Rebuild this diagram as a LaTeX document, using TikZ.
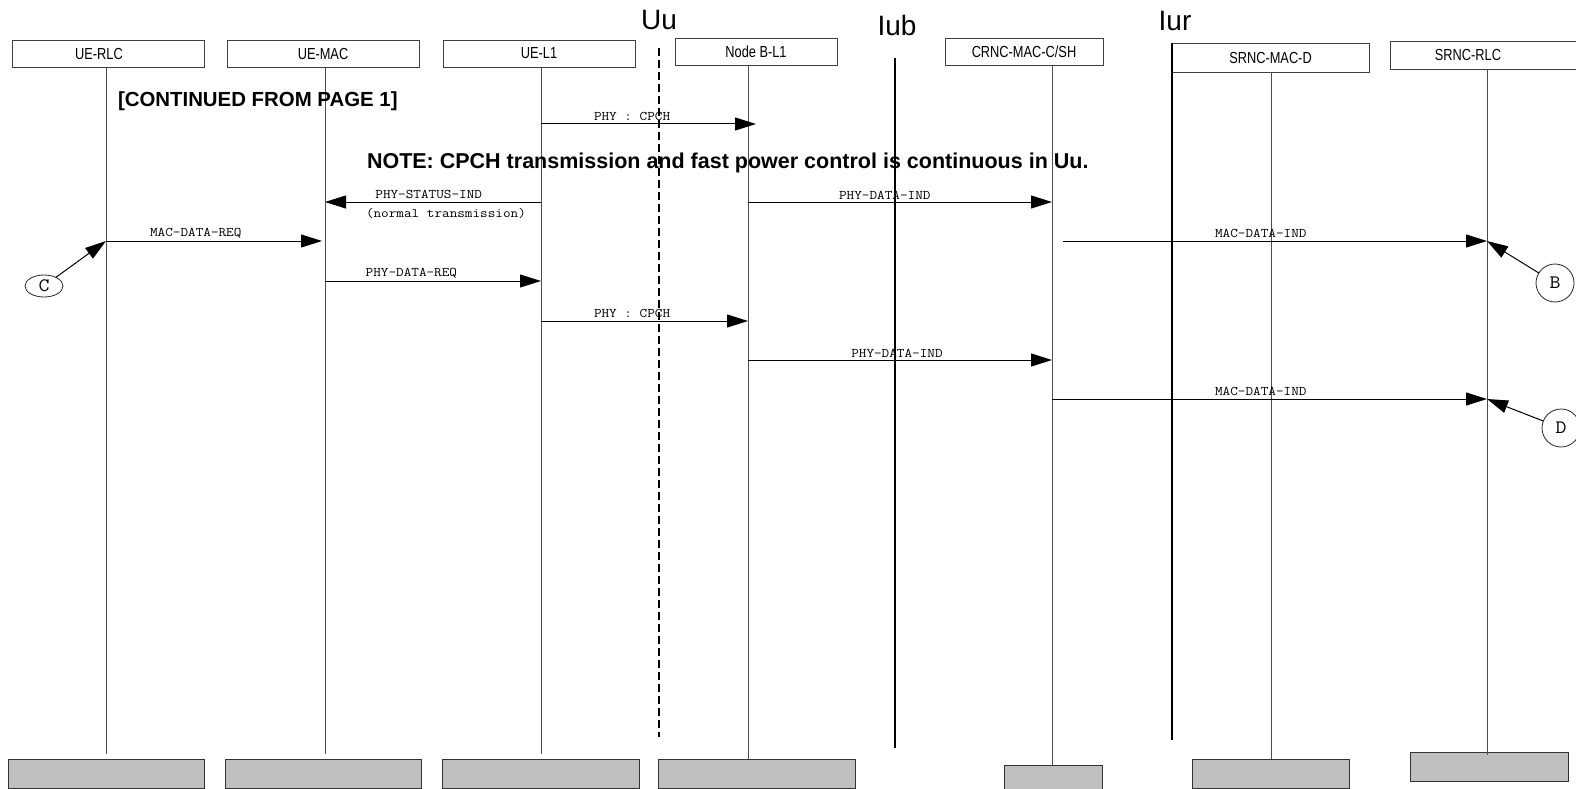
\documentclass[tikz,border=0pt]{standalone}
\usepackage{fontspec}
\setmainfont{Liberation Sans}
\newfontfamily\hdrfont[FakeStretch=0.8]{Liberation Sans}
\newfontfamily\msgfont[FakeStretch=1.12]{Latin Modern Mono}
\usepackage{tikz}
\usetikzlibrary{positioning,arrows.meta,shapes.geometric}

\begin{document}
\begin{tikzpicture}[x=1pt,y=-1pt]
        \tikzstyle{every node}=[inner sep=0pt, outer sep=0pt]
        \tikzstyle{entity}=[draw=black!75, line width=0.8pt, minimum height=27pt, anchor=north west, font=\hdrfont\fontsize{16}{16}\selectfont]
        \tikzstyle{endbox}=[draw=black!80, line width=1pt, fill=black!25, minimum height=29pt, anchor=north west]
        \tikzstyle{life}=[draw=black!70, line width=0.9pt]
        \tikzstyle{iface}=[draw=black, line width=2pt]
        \tikzstyle{msg}=[draw=black, line width=1pt, -{Triangle[length=21pt,width=13pt]}]
        \tikzstyle{lbl}=[font=\msgfont\fontsize{13.2}{14}\selectfont, text=black]
        \tikzstyle{ref}=[draw=black!85, ellipse, line width=0.8pt, font=\msgfont\fontsize{19}{19}\selectfont]
        \tikzstyle{big}=[anchor=west, font=\bfseries\fontsize{20.4}{21}\selectfont]
        \tikzstyle{iflabel}=[font=\fontsize{28}{28}\selectfont]

        \useasboundingbox (0,0) rectangle (1576,789);

        \node (uerlc)   [entity, minimum width=192pt] at (12,40)   {UE-RLC\hspace*{18pt}};
        \node (uemac)   [entity, minimum width=192pt] at (227,40)  {UE-MAC};
        \node (uel1)    [entity, minimum width=192pt] at (443,40)  {UE-L1};
        \node (nbl1)    [entity, minimum width=162pt] at (675,38)  {Node B-L1};
        \node (crnc)    [entity, minimum width=158pt] at (945,38)  {CRNC-MAC-C/SH};
        \node (srncmac) [entity, minimum width=197pt, minimum height=29pt] at (1172,43) {SRNC-MAC-D};
        \node (srncrlc) [entity, minimum width=230pt, minimum height=28pt] at (1390,41) {SRNC-RLC\hspace*{74pt}};

        \node (uerlcend)   [endbox, minimum width=196pt] at (8,759)    {};
        \node (uemacend)   [endbox, minimum width=196pt] at (225,759)  {};
        \node (uel1end)    [endbox, minimum width=197pt] at (442,759)  {};
        \node (nbl1end)    [endbox, minimum width=197pt] at (658,759)  {};
        \node (crncend)    [endbox, minimum width=98pt, minimum height=32pt] at (1004,765) {};
        \node (srncmacend) [endbox, minimum width=157pt] at (1192,759) {};
        \node (srncrlcend) [endbox, minimum width=158pt] at (1410,752) {};

        \coordinate (rlcx)  at (106,0);
        \coordinate (macx)  at (325,0);
        \coordinate (l1x)   at (541,0);
        \coordinate (nbx)   at (748,0);
        \coordinate (crncx) at (1052,0);
        \coordinate (macdx) at (1271,0);
        \coordinate (srlcx) at (1487,0);
        \coordinate (lifeend) at (0,754);

        \draw[life] (uerlc.south -| rlcx) -- (rlcx |- lifeend);
        \draw[life] (uemac.south -| macx) -- (macx |- lifeend);
        \draw[life] (uel1.south -| l1x) -- (l1x |- lifeend);
        \draw[life] (nbl1.south -| nbx) -- (nbx |- nbl1end.north);
        \draw[life] (crnc.south -| crncx) -- (crncx |- crncend.north);
        \draw[life] (srncmac.south -| macdx) -- (macdx |- srncmacend.north);
        \draw[life] (srncrlc.south -| srlcx) -- ([yshift=-3pt]srlcx |- srncrlcend.north);

        \coordinate (uutop)  at (659,48);
        \coordinate (uubot)  at (659,737);
        \coordinate (iubtop) at (895,58);
        \coordinate (iubbot) at (895,748);
        \coordinate (iurtop) at (1172,43);
        \coordinate (iurbot) at (1172,740);
        \draw[iface, dash pattern=on 8pt off 4pt] (uutop) -- (uubot);
        \draw[iface] (iubtop) -- (iubbot);
        \draw[iface] (iurtop) -- (iurbot);
        \node (uu)  [iflabel] at (659,20)  {Uu};
        \node (iub) [iflabel] at (897,25)  {Iub};
        \node (iur) [iflabel] at (1175,21) {Iur};

        \node (cont) [big] at (118,101) {[CONTINUED FROM PAGE 1]};
        \node (note) [big, font=\bfseries\fontsize{21.5}{22}\selectfont] at (367,163) {NOTE: CPCH transmission and fast power control is continuous in Uu.};

        \coordinate (cpchA)     at (0,124);
        \coordinate (statusrow) at (0,202);
        \coordinate (reqrow)    at (0,241);
        \coordinate (phyreqrow) at (0,281);
        \coordinate (cpchB)     at (0,321);
        \coordinate (indrow)    at (0,360);
        \coordinate (macindrow) at (0,399);

        \draw[msg, shorten >=-8pt] (l1x |- cpchA) -- node[lbl, above=3pt, pos=0.44] (cpchAl) {PHY : CPCH} (nbx |- cpchA);
        \draw[msg] (l1x |- statusrow) -- node[lbl, above=3pt, pos=0.52] (statusl) {PHY-STATUS-IND}
                node[lbl, below=6pt, pos=0.44] (statusn) {(normal transmission)} (macx |- statusrow);
        \draw[msg] (nbx |- statusrow) -- node[lbl, above=3pt, pos=0.45] (indAl) {PHY-DATA-IND} (crncx |- statusrow);
        \draw[msg, shorten >=3pt] (rlcx |- reqrow) -- node[lbl, above=3pt, pos=0.41] (reql) {MAC-DATA-REQ} (macx |- reqrow);
        \draw[msg, shorten <=11pt] (crncx |- reqrow) -- node[lbl, above=3pt, pos=0.48] (macindAl) {MAC-DATA-IND} (srlcx |- reqrow);
        \draw[msg] (macx |- phyreqrow) -- node[lbl, above=3pt, pos=0.40] (phyreql) {PHY-DATA-REQ} (l1x |- phyreqrow);
        \draw[msg] (l1x |- cpchB) -- node[lbl, above=3pt, pos=0.44] (cpchBl) {PHY : CPCH} (nbx |- cpchB);
        \draw[msg] (nbx |- indrow) -- node[lbl, above=3pt, pos=0.49] (indBl) {PHY-DATA-IND} (crncx |- indrow);
        \draw[msg] (crncx |- macindrow) -- node[lbl, above=3pt, pos=0.48] (macindBl) {MAC-DATA-IND} (srlcx |- macindrow);

        \node (refc) [ref, minimum width=38pt, minimum height=22pt] at (44,286) {C};
        \node (refb) [ref, minimum size=38pt] at (1555,283) {B};
        \node (refd) [ref, minimum size=38pt] at (1561,428) {D};
        \draw[msg] (refc) -- (rlcx |- reqrow);
        \draw[msg] (refb) -- (srlcx |- reqrow);
        \draw[msg] (refd) -- (srlcx |- macindrow);

    \end{tikzpicture}
\end{document}
